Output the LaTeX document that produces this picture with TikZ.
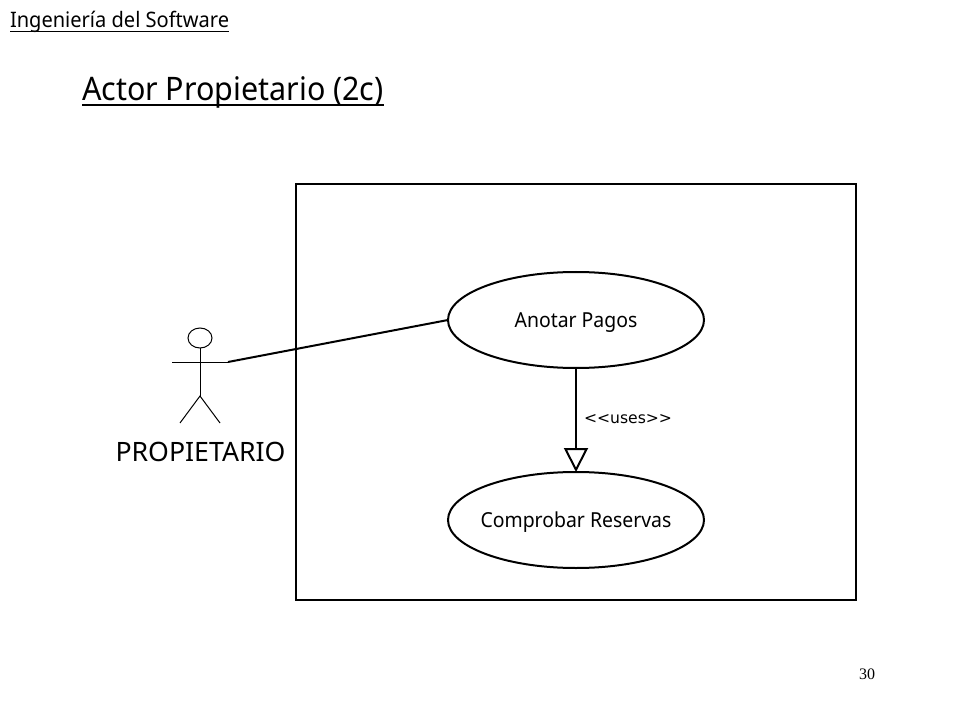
\documentclass[tikz,border=0pt]{standalone}
\usepackage{fontspec}
\setmainfont{Noto Sans}
\newfontfamily\narrowfont[FakeStretch=0.94]{Noto Sans}
\newfontfamily\usesfont{DejaVu Sans}
\newfontfamily\pagefont{Liberation Serif}
\usetikzlibrary{arrows.meta,shapes.geometric}
\newcommand{\ruled}[3]{\setbox0=\hbox{#1}\rlap{\raisebox{-#2}{\rule{\wd0}{#3}}}\box0}

\begin{document}
\begin{tikzpicture}[
        x=0.75pt, y=-0.75pt,
        every node/.style={inner sep=0pt, outer sep=0pt, text=black},
        usecase/.style={draw, ellipse, line width=1.5pt, inner xsep=-10pt, minimum width=192pt, minimum height=72pt, text depth=0pt, font=\fontsize{15.5}{18}\narrowfont},
        limb/.style={line width=0.75pt},
        ]
    \useasboundingbox (0,0) rectangle (960,720);
    \node[anchor=base west, font=\fontsize{16}{19}\narrowfont] (course) at (10,28) {\ruled{Ingeniería del Software}{3pt}{0.9pt}};
    \node[anchor=base west, font=\fontsize{24.3}{28}\narrowfont] (title) at (82,101) {\ruled{Actor Propietario (2c)}{3.75pt}{1.5pt}};
    \node[anchor=base, font=\fontsize{12}{14}\pagefont] (page) at (867,679) {30};

    \draw[line width=1.5pt] (296,184) rectangle (856,600);

    % use cases
    \node[usecase] (pagos) at (576,320) {Anotar Pagos};
    \node[usecase] (reservas) at (576,520) {Comprobar Reservas};
    \draw[line width=1.5pt, -{Triangle[open, length=18pt, width=18pt, line width=1.5pt]}] (pagos) -- (reservas);
    \node[anchor=base west, font=\fontsize{11.7}{14}\usesfont] (uses) at (584,423) {<{}<uses>{}>};

    % actor
    \node[draw, ellipse, limb, minimum width=18pt, minimum height=15pt] (head) at (200,338) {};
    \coordinate (hip) at (200,396);
    \coordinate (handl) at (172,362);
    \coordinate (handr) at (228,362);
    \coordinate (footl) at (180,423);
    \coordinate (footr) at (220,423);
    \draw[limb] (head) -- (hip);
    \draw[limb] (handl) -- (handr);
    \draw[limb] (footl) -- (hip) -- (footr);
    \node[anchor=base, font=\fontsize{20}{24}\selectfont] (actor) at (200.5,461) {PROPIETARIO};
    \draw[line width=1.5pt] (handr) -- (pagos.west);
\end{tikzpicture}
\end{document}
